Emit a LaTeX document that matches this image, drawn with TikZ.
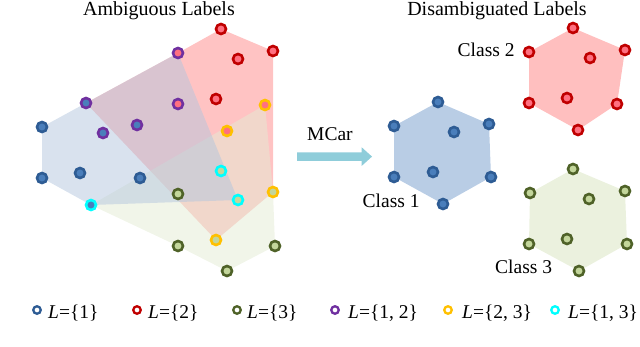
\documentclass[tikz,border=0pt]{standalone}
\usepackage{fontspec}
\setmainfont{Liberation Serif}
\definecolor{ringblue}{HTML}{2E5C94}
\definecolor{inblue}{HTML}{4A7EBB}
\definecolor{ringred}{HTML}{C00000}
\definecolor{inred}{HTML}{FF7080}
\definecolor{ringgreen}{HTML}{4F6228}
\definecolor{ingreen}{HTML}{C3D69B}
\definecolor{ringpurple}{HTML}{7030A0}
\definecolor{ringyellow}{HTML}{FFC000}
\definecolor{ringcyan}{HTML}{00FFFF}
\definecolor{hullred}{HTML}{FF8888}
\definecolor{hullgreen}{HTML}{E3EBD3}
\definecolor{hullblue}{HTML}{B3C6DE}
\definecolor{hexblue}{HTML}{B9CDE5}
\definecolor{hexred}{HTML}{FFBFBF}
\definecolor{hexgreen}{HTML}{EBF1DE}
\definecolor{arrowcol}{HTML}{8FCDDA}
\tikzset{
  dot/.style n args={2}{circle, inner sep=0pt, minimum size=10bp, line width=2.6bp, draw=#1, fill=#2},
  legdot/.style={circle, inner sep=0pt, minimum size=7.5bp, line width=2.3bp, draw=#1, fill=white},
  title/.style={font=\fontsize{20bp}{22bp}\selectfont, anchor=base, inner sep=1bp},
  lbl/.style={font=\fontsize{19.5bp}{21bp}\selectfont, anchor=base west, inner sep=0pt},
  hull/.style={fill=#1, fill opacity=0.5},
}
\begin{document}
\begin{tikzpicture}[x=1bp, y=-1bp]
\useasboundingbox (0,0) rectangle (640,346);
% ---- left: ambiguous labels (coordinates) ----
\coordinate (r1) at (221,29);  \coordinate (r2) at (273,51);
\coordinate (r3) at (238,59);  \coordinate (r4) at (216,99);
\coordinate (u1) at (178,53);  \coordinate (u2) at (86,103);
\coordinate (u3) at (178,104); \coordinate (u4) at (137,125);
\coordinate (u5) at (103,133);
\coordinate (b1) at (42,127);  \coordinate (b2) at (42,178);
\coordinate (b3) at (80,173);  \coordinate (b4) at (140,178);
\coordinate (y1) at (265,105); \coordinate (y2) at (227,131);
\coordinate (y3) at (273,192); \coordinate (y4) at (216,240);
\coordinate (c1) at (221,171); \coordinate (c2) at (238,200);
\coordinate (c3) at (91,205);
\coordinate (g1) at (178,194); \coordinate (g2) at (178,246);
\coordinate (g3) at (227,271); \coordinate (g4) at (275,246);
% hulls
\fill[hull=hullred] (u2) -- (u1) -- (r1) -- (r2) -- (y3) -- (y4) -- cycle;
\fill[hull=hullgreen] (c3) -- (y1) -- (y3) -- (g4) -- (g3) -- (g2) -- cycle;
\fill[hull=hullblue] (b1) -- (u2) -- (u1) -- (c2) -- (c3) -- (b2) -- cycle;
% dots
\foreach \p in {r1,r2,r3,r4} \node[dot={ringred}{inred}] at (\p) {};
\foreach \p in {u1,u3} \node[dot={ringpurple}{inred}] at (\p) {};
\foreach \p in {u2,u4,u5} \node[dot={ringpurple}{inblue}] at (\p) {};
\foreach \p in {b1,b2,b3,b4} \node[dot={ringblue}{inblue}] at (\p) {};
\foreach \p in {y1,y2} \node[dot={ringyellow}{inred}] at (\p) {};
\foreach \p in {y3,y4} \node[dot={ringyellow}{ingreen}] at (\p) {};
\foreach \p in {c1,c2} \node[dot={ringcyan}{ingreen}] at (\p) {};
\node[dot={ringcyan}{inblue}] at (c3) {};
\foreach \p in {g1,g2,g3,g4} \node[dot={ringgreen}{ingreen}] at (\p) {};
% ---- right: disambiguated ----
\coordinate (a1) at (438,102); \coordinate (a2) at (394,126);
\coordinate (a3) at (489,124); \coordinate (a4) at (454,132);
\coordinate (a5) at (433,172); \coordinate (a6) at (394,177);
\coordinate (a7) at (491,177); \coordinate (a8) at (443,204);
\coordinate (e1) at (573,28);  \coordinate (e2) at (529,52);
\coordinate (e3) at (625,50);  \coordinate (e4) at (590,58);
\coordinate (e5) at (567,98);  \coordinate (e6) at (529,103);
\coordinate (e7) at (617,104); \coordinate (e8) at (578,130);
\coordinate (f1) at (573,169); \coordinate (f2) at (530,193);
\coordinate (f3) at (625,191); \coordinate (f4) at (589,199);
\coordinate (f5) at (567,239); \coordinate (f6) at (529,244);
\coordinate (f7) at (627,244); \coordinate (f8) at (579,271);
\fill[hexblue] (a1) -- (a3) -- (a7) -- (a8) -- (a6) -- (a2) -- cycle;
\fill[hexred] (e1) -- (e3) -- (e7) -- (e8) -- (e6) -- (e2) -- cycle;
\fill[hexgreen] (f1) -- (f3) -- (f7) -- (f8) -- (f6) -- (f2) -- cycle;
\foreach \p in {a1,a2,a3,a4,a5,a6,a7,a8} \node[dot={ringblue}{inblue}] at (\p) {};
\foreach \p in {e1,e2,e3,e4,e5,e6,e7,e8} \node[dot={ringred}{inred}] at (\p) {};
\foreach \p in {f1,f2,f3,f4,f5,f6,f7,f8} \node[dot={ringgreen}{ingreen}] at (\p) {};
% labels
\node[title] (t1) at (159,15.5) {Ambiguous Labels};
\node[title] (t2) at (497,15.5) {Disambiguated Labels};
\node[lbl] (k2) at (457.5,56) {Class 2};
\node[lbl] (k1) at (362.5,207) {Class 1};
\node[lbl] (k3) at (495,273) {Class 3};
\node[lbl] (mc) at (307,140) {MCar};
% arrow
\fill[arrowcol] (297,152.3) -- (361.7,152.3) -- (361.7,147.3) -- (372,156.6)
  -- (361.7,165.9) -- (361.7,160.9) -- (297,160.9) -- cycle;
% legend
\node[legdot=ringblue] (l1) at (37,310) {};
\node[legdot=ringred] (l2) at (137,310) {};
\node[legdot=ringgreen] (l3) at (237,310) {};
\node[legdot=ringpurple] (l4) at (335,310) {};
\node[legdot=ringyellow] (l5) at (448,310) {};
\node[legdot=ringcyan] (l6) at (555,310) {};
\node[lbl] (m1) at (48,318) {\textit{L}=\{1\}};
\node[lbl] (m2) at (148,318) {\textit{L}=\{2\}};
\node[lbl] (m3) at (247,318) {\textit{L}=\{3\}};
\node[lbl] (m4) at (348,318) {\textit{L}=\{1, 2\}};
\node[lbl] (m5) at (462,318) {\textit{L}=\{2, 3\}};
\node[lbl] (m6) at (568,318) {\textit{L}=\{1, 3\}};
\end{tikzpicture}
\end{document}
